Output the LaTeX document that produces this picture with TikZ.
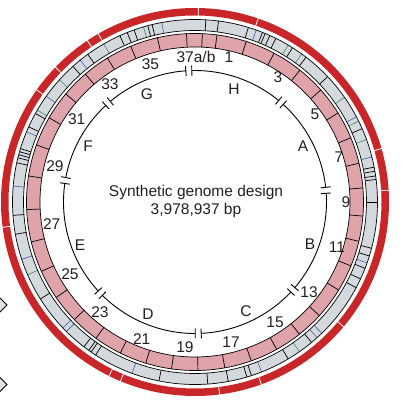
\documentclass[tikz,border=0pt]{standalone}
\usepackage{fontspec}
\setmainfont{Liberation Sans}
\usepackage{xcolor}
\usetikzlibrary{calc}
\definecolor{segpink}{RGB}{223,163,170}
\definecolor{featgrey}{RGB}{212,217,221}
\definecolor{outerred}{RGB}{200,38,40}
\definecolor{featblue}{RGB}{72,92,172}
\definecolor{featgreen}{RGB}{62,140,104}
\definecolor{labeltext}{RGB}{35,31,32}
\tikzset{
    genomeline/.style={
        draw=black,
        line width=0.9pt
    },
    ringedge/.style={
        draw=black,
        line width=0.7pt
    },
    featline/.style={
        line width=0.6pt
    },
    redband/.style={
        draw=outerred,
        line width=7.5pt
    },
    redgap/.style={
        draw=white,
        line width=0.8pt
    },
    seglabel/.style={
        text=labeltext,
        inner sep=0pt,
        font=\fontsize{15.5}{18}\selectfont
    },
    centrelabel/.style={
        text=labeltext,
        inner sep=0pt,
        anchor=base,
        font=\fontsize{15.5}{18}\selectfont
    },
    edgediamond/.style={
        draw=black,
        fill=featgrey!70,
        line width=0.8pt
    }
}

\begin{document}
\begin{tikzpicture}[x=1pt, y=1pt]
\useasboundingbox (-195,-209) rectangle (208,202);

% cut-off marks on the left edge
\draw[edgediamond] (-188,-103) -- (-195,-96) -- (-202,-103) -- (-195,-110) -- cycle;
\draw[edgediamond] (-188,-182.5) -- (-195,-175.5) -- (-202,-182.5) -- (-195,-189.5) -- cycle;

% outer red band
\draw[redband] (0,0) circle [radius=190.25];
\foreach \a in {123.7, 119.9, 136, 144.7, 187.5, -116.3, -112.6, -82.7, -70, -40, 3.5, 16, 71, 89}
    \draw[redgap] (\a:185.5) -- (\a:195);

% grey feature ring
\fill[featgrey, even odd rule] (0,0) circle [radius=182.5] (0,0) circle [radius=171.5];
\foreach \a in {114.3, 111.8, 109.5, 105, 103.6, 86.6, 82.6, 73, 68.3, 67.4, 65.8, 63.7, 57.7, 52.5, 43.4, 23.7, 11, 9.7, 8.2, 7.1, 0, -14.7, -17.2, -21.3, -24.9, -28, -50.3, -59.3, -72, -73.5, -79.5, -86, -101.4, -123, -124.7, -125.6, -127.5, -147.9, -169.8, -175.8, 167.6, 166, 165, 164, 163, 155.7, 151, 132, 126}
    \draw[ringedge] (\a:171.5) -- (\a:182.5);
\foreach \a in {100.5, 70.4, 27.8, 14.3, -19.5, -46, -48, -68.6, -110.2, -134.8, -136.4, -161.7, 175, 157.4, 144.6, 129}
    \draw[featline, featblue] (\a:171.5) -- (\a:182.5);
\foreach \a in {106.4, 59.3, 54.2, 35, 26.3, 20, -55.1, -156.5, 149.8, 138, 120}
    \draw[featline, featgreen] (\a:171.5) -- (\a:182.5);
\draw[ringedge] (0,0) circle [radius=171.5];
\draw[ringedge] (0,0) circle [radius=182.5];

% pink segment ring
\fill[segpink, even odd rule] (0,0) circle [radius=168.5] (0,0) circle [radius=155];
\foreach \a in {92.9, 87.5, 82.5, 72.3, 62, 51.5, 41.7, 31.9, 22.4, 13.3, 4.8, -4.8, -13.5, -22.3, -31.5, -42.4, -51.7, -61, -70.5, -79.8, -89, -98, -107, -116.3, -126, -135.7, -145.5, -155.7, -166.3, -177.4, -188.9, -199.8, -210, -219.9, -229.4, -238.7, -247.6, -257.1}
    \draw[ringedge] (\a:155) -- (\a:168.5);
\draw[ringedge] (0,0) circle [radius=155];
\draw[ringedge] (0,0) circle [radius=168.5];

% genome circle with section breaks
\foreach \a/\b in {92.7/49.2, 49.2/5.1, 5.1/-41.9, -41.9/-88.6, -88.6/-136.1, -136.1/-189.4, -189.4/-228.6, -228.6/-267.3}
    \draw[genomeline] ({\a-1.3}:131.5) arc [start angle=\a-1.3, end angle=\b+1.3, radius=131.5];
\foreach \a in {92.7, 49.2, 5.1, -41.9, -88.6, -136.1, -189.4, -228.6} {
    \draw[genomeline] ({\a-1.3}:126.5) -- ({\a-1.3}:136.5);
    \draw[genomeline] ({\a+1.3}:126.5) -- ({\a+1.3}:136.5);
}

% segment numbers
\node[seglabel] (lab37) at (1,145) {37a/b};
\node[seglabel] (lab1) at (34,145) {1};
\node[seglabel] (lab3) at (83,125) {3};
\node[seglabel] (lab5) at (120,88) {5};
\node[seglabel] (lab7) at (144,45) {7};
\node[seglabel] (lab9) at (151,0) {9};
\node[seglabel] (lab11) at (142,-45) {11};
\node[seglabel] (lab13) at (114,-90) {13};
\node[seglabel] (lab15) at (80,-120) {15};
\node[seglabel] (lab17) at (36,-140) {17};
\node[seglabel] (lab19) at (-10,-145) {19};
\node[seglabel] (lab21) at (-53.3,-137) {21};
\node[seglabel] (lab23) at (-95,-110) {23};
\node[seglabel] (lab25) at (-125,-72) {25};
\node[seglabel] (lab27) at (-143.3,-22) {27};
\node[seglabel] (lab29) at (-140,36) {29};
\node[seglabel] (lab31) at (-118.3,83) {31};
\node[seglabel] (lab33) at (-85,118) {33};
\node[seglabel] (lab35) at (-44.5,138) {35};

% section letters
\node[seglabel] (secH) at (39,113) {H};
\node[seglabel] (secA) at (108,56) {A};
\node[seglabel] (secB) at (115,-42) {B};
\node[seglabel] (secC) at (51,-109) {C};
\node[seglabel] (secD) at (-47,-112) {D};
\node[seglabel] (secE) at (-115,-43) {E};
\node[seglabel] (secF) at (-107,56) {F};
\node[seglabel] (secG) at (-48,108) {G};

% centre
\node[centrelabel] (title) at (1,5.3) {Synthetic genome design};
\node[centrelabel] (size) at (1,-13) {3,978,937 bp};
\end{tikzpicture}
\end{document}
